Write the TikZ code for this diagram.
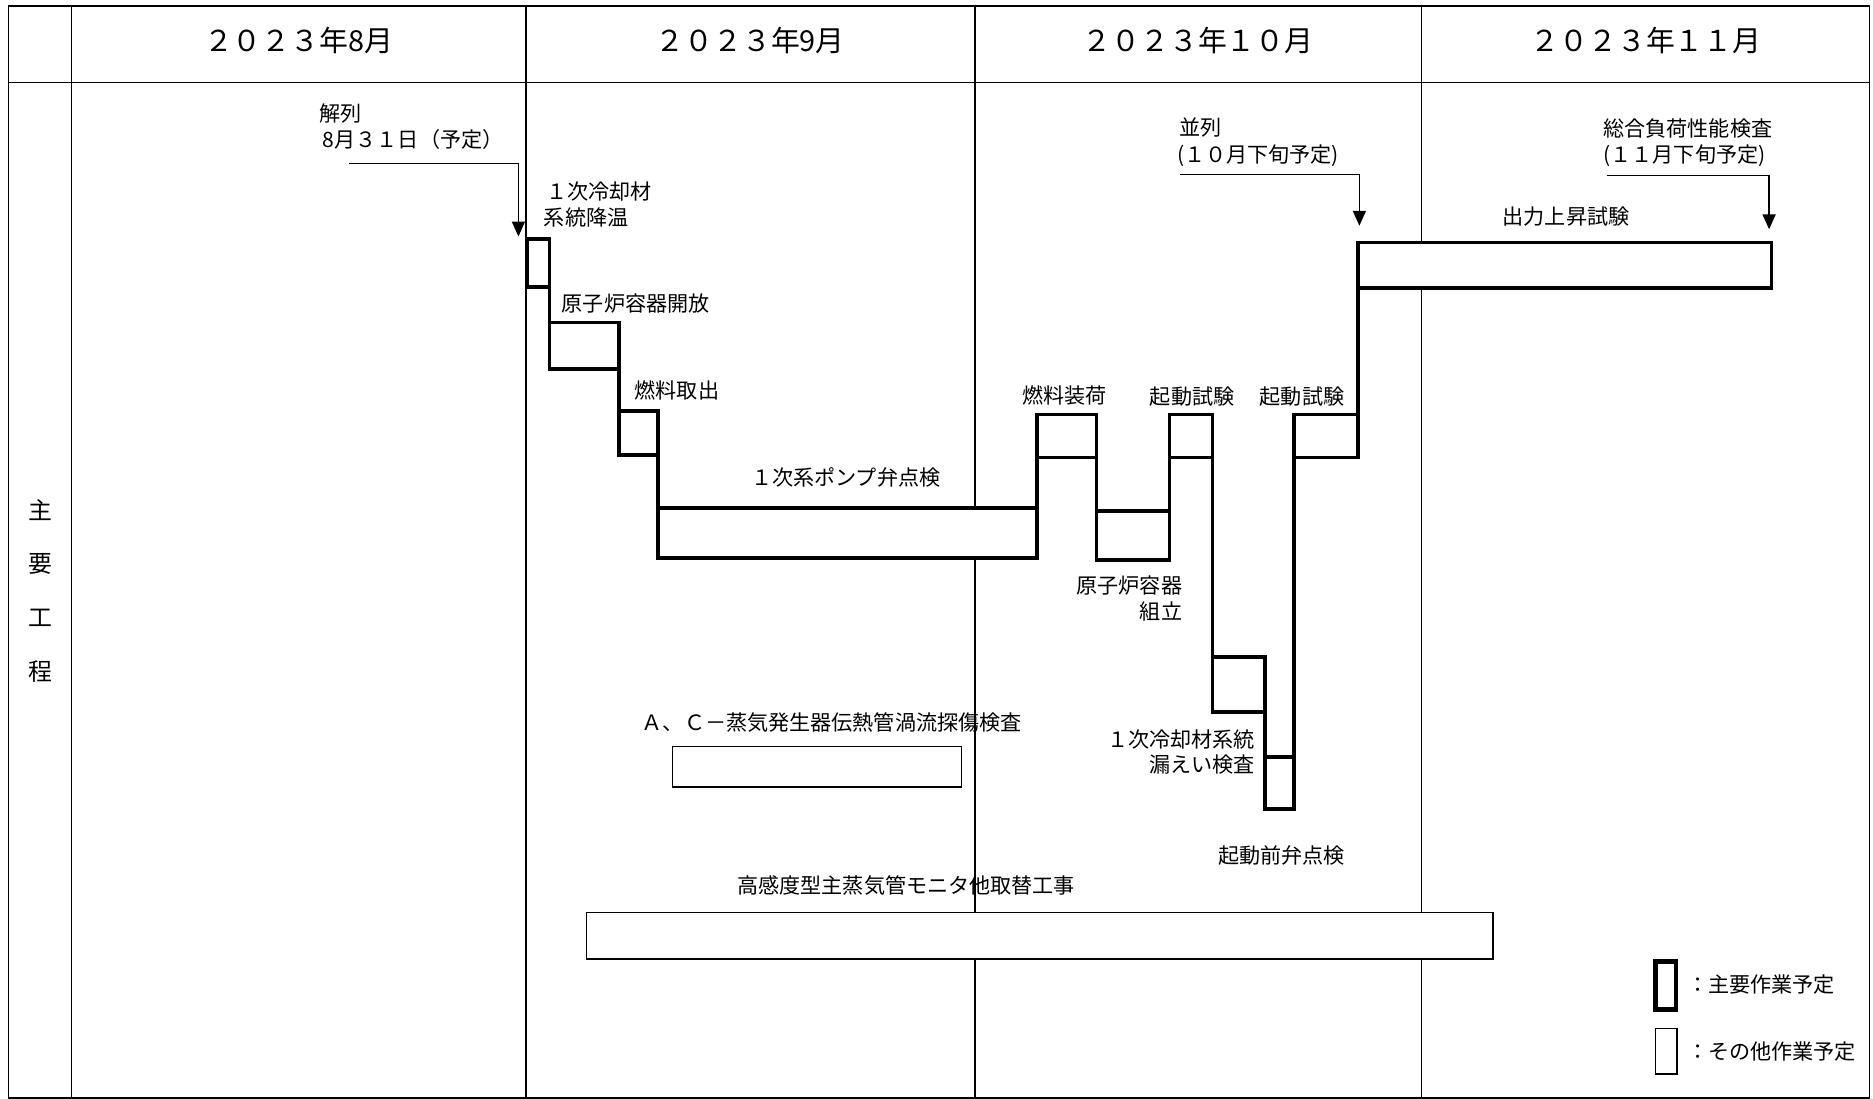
\documentclass[tikz,border=0pt]{standalone}
\usepackage{fontspec}
\newfontfamily\jp{Noto Sans CJK JP}
\usetikzlibrary{fit,arrows.meta}
\begin{document}
\begin{tikzpicture}[x=0.6pt,y=-0.6pt,
  grid/.style={line width=0.8pt},
  mainbox/.style={draw, fill=white, line width=1.9pt, inner sep=0pt, outer sep=0pt},
  otherbox/.style={draw, fill=white, line width=0.8pt, inner sep=0pt, outer sep=0pt},
  link/.style={line width=1.9pt},
  lbl/.style={font=\jp\fontsize{10.6}{12}\selectfont, inner sep=0pt},
  hdr/.style={font=\jp\fontsize{14.5}{16}\selectfont, inner sep=0pt},
  arr/.style={line width=0.8pt, -{Triangle[width=6.5pt,length=7.5pt]}},
]
\useasboundingbox (0,0) rectangle (1568,920);
\fill[white] (0,0) rectangle (1568,920);
% table
\draw[grid] (7,5) rectangle (1565,919);
\draw[grid] (7,69) -- (1565,69);
\foreach \x in {60,440.5,816,1190} \draw[grid] (\x,5) -- (\x,919);
% headers
\node[hdr] (h8) at (250,34) {２０２３年8月};
\node[hdr] (h9) at (628,34) {２０２３年9月};
\node[hdr] (h10) at (1003,34) {２０２３年１０月};
\node[hdr] (h11) at (1378,34) {２０２３年１１月};
\node[font=\jp\fontsize{12}{27}\selectfont, align=center, inner sep=0pt] (side) at (34,494.5) {主\\要\\工\\程};
% main boxes
\node[mainbox, fit={(441,200) (460,240)}] (b1) {};
\node[mainbox, fit={(460,270) (518,309)}] (b2) {};
\node[mainbox, fit={(518,344) (551,381)}] (b3) {};
\node[mainbox, fit={(551,425) (868,467)}] (b4) {};
\node[mainbox, fit={(868,347) (918,383)}] (b5) {};
\node[mainbox, fit={(918,428) (979,469)}] (b6) {};
\node[mainbox, fit={(979,347) (1015,383)}] (b7) {};
\node[mainbox, fit={(1015,550) (1059,596)}] (b8) {};
\node[mainbox, fit={(1059,634) (1083,677)}] (b9) {};
\node[mainbox, fit={(1083,347) (1137,383)}] (b10) {};
\node[mainbox, fit={(1137,203) (1483,241)}] (b11) {};
% links
\draw[link] (b1.south east) -- (b2.north west);
\draw[link] (b2.south east) -- (b3.north west);
\draw[link] (b3.south east) -- (b4.north west);
\draw[link] (b5.south west) -- (b4.north east);
\draw[link] (b5.south east) -- (b6.north west);
\draw[link] (b6.north east) -- (b7.south west);
\draw[link] (b7.south east) -- (b8.north west);
\draw[link] (b8.south east) -- (b9.north west);
\draw[link] (b9.north east) -- (b10.south west);
\draw[link] (b10.north east) -- (b11.south west);
% other boxes
\node[otherbox, fit={(563,625) (805,659)}] (o1) {};
\node[otherbox, fit={(491,764) (1250,803)}] (o2) {};
% arrows
\coordinate (a1s) at (292,137); \coordinate (a1e) at (434,198);
\coordinate (a2s) at (988,146); \coordinate (a2e) at (1138,189);
\coordinate (a3s) at (1345,147); \coordinate (a3e) at (1481,192);
\draw[arr] (a1s) -| (a1e);
\draw[arr] (a2s) -| (a2e);
\draw[arr] (a3s) -| (a3e);
% labels
\node[lbl, anchor=west] (t1a) at (267,95) {解列};
\node[lbl, anchor=west] (t1b) at (270,117) {8月３１日（予定）};
\node[lbl, anchor=west] (t2a) at (987,107) {並列};
\node[lbl, anchor=west] (t2b) at (985,130) {(１０月下旬予定)};
\node[lbl, anchor=west] (t3a) at (1342,108) {総合負荷性能検査};
\node[lbl, anchor=west] (t3b) at (1342,130) {(１１月下旬予定)};
\node[lbl, anchor=west] (l1a) at (457,160) {１次冷却材};
\node[lbl, anchor=west] (l1b) at (455,182) {系統降温};
\node[lbl, anchor=west] (l2) at (470,254) {原子炉容器開放};
\node[lbl, anchor=west] (l3) at (531,327) {燃料取出};
\node[lbl] (l4) at (708,400) {１次系ポンプ弁点検};
\node[lbl] (l5) at (891,331) {燃料装荷};
\node[lbl, anchor=east] (l6a) at (990,490) {原子炉容器};
\node[lbl, anchor=east] (l6b) at (990,512) {組立};
\node[lbl] (l7) at (998,332) {起動試験};
\node[lbl, anchor=east] (l8a) at (1051,619) {１次冷却材系統};
\node[lbl, anchor=east] (l8b) at (1051,640) {漏えい検査};
\node[lbl] (l9) at (1073,716) {起動前弁点検};
\node[lbl] (l10) at (1090,332) {起動試験};
\node[lbl] (l11) at (1311,181) {出力上昇試験};
\node[lbl, anchor=west] (lo1) at (537,605) {Ａ、Ｃ－蒸気発生器伝熱管渦流探傷検査};
\node[lbl, anchor=west] (lo2) at (617,741) {高感度型主蒸気管モニタ他取替工事};
% legend
\node[mainbox, line width=2.4pt, fit={(1386,805) (1403,845)}] (leg1) {};
\node[otherbox, fit={(1386,861) (1404,899)}] (leg2) {};
\node[lbl, anchor=west] (leg1t) at (1412,824) {：主要作業予定};
\node[lbl, anchor=west] (leg2t) at (1412,880) {：その他作業予定};
\end{tikzpicture}
\end{document}
